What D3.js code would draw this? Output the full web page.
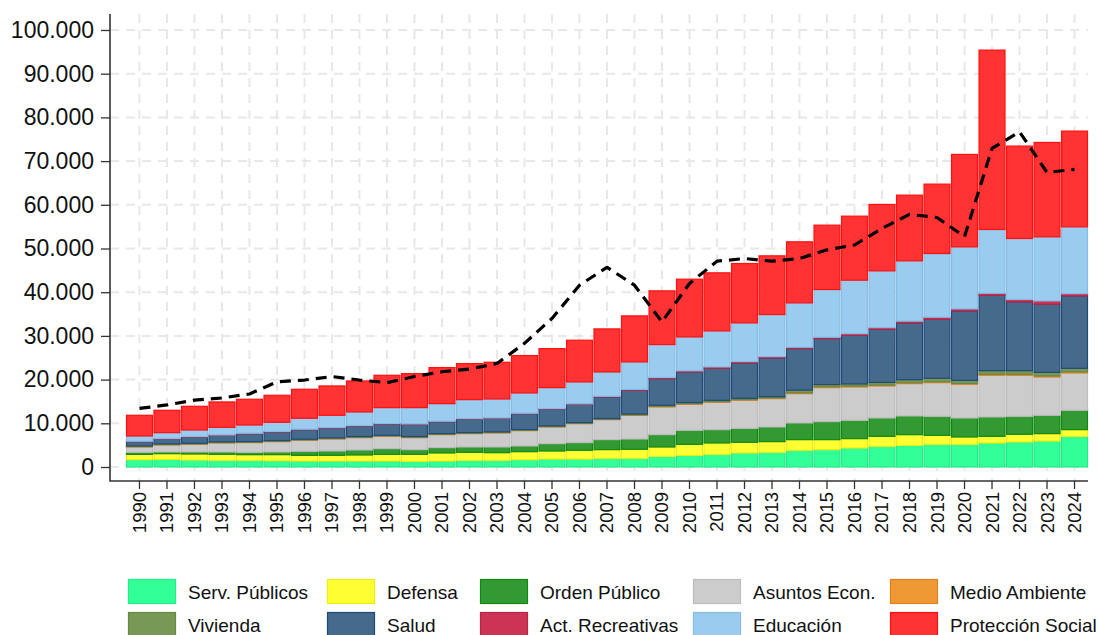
<!DOCTYPE html>
<html>
<head>
<meta charset="utf-8">
<script src="https://cdn.jsdelivr.net/npm/d3@7"></script>
<style>
  html, body { margin: 0; padding: 0; background: #fff; }
  svg { display: block; font-family: "Liberation Sans", Arial, sans-serif; }
</style>
</head>
<body>
<div id="canvas"></div>
<script>
'use strict';

/* Categories and values. */
const years = [1990, 1991, 1992, 1993, 1994, 1995, 1996, 1997, 1998, 1999,
  2000, 2001, 2002, 2003, 2004, 2005, 2006, 2007, 2008, 2009,
  2010, 2011, 2012, 2013, 2014, 2015, 2016, 2017, 2018, 2019,
  2020, 2021, 2022, 2023, 2024];

const servPublicos = [1680, 1760, 1600, 1530, 1530, 1450, 1370, 1370, 1370, 1370,
  1300, 1370, 1530, 1530, 1680, 1830, 1830, 1980, 1980, 2440,
  2670, 2900, 3210, 3360, 3820, 3970, 4350, 4730, 4960, 5190,
  5190, 5500, 5730, 5950, 7020];
const defensa = [1220, 1290, 1380, 1370, 1290, 1370, 1300, 1300, 1380, 1530,
  1600, 1840, 1830, 1750, 1830, 1830, 1990, 1990, 2070, 2140,
  2520, 2600, 2440, 2440, 2440, 2290, 2140, 2290, 2440, 2060,
  1680, 1520, 1750, 1680, 1530];
const ordenPublico = [460, 390, 460, 540, 540, 620, 920, 990, 1140, 1300,
  1070, 1220, 1220, 1300, 1300, 1680, 1750, 2290, 2360, 2820,
  3210, 3050, 3200, 3360, 3820, 4120, 4200, 4200, 4280, 4350,
  4350, 4430, 4120, 4200, 4430];
const asuntosEcon = [1220, 1600, 1750, 2060, 2210, 2360, 2520, 2750, 2830, 2820,
  2750, 2970, 3050, 3210, 3510, 3820, 4350, 4580, 5420, 6340,
  5950, 6260, 6420, 6490, 6710, 7790, 7630, 7330, 7400, 7710,
  7710, 9540, 9390, 8780, 8550];
const medioAmbiente = [100, 100, 100, 100, 100, 100, 100, 100, 100, 100,
  100, 100, 100, 100, 100, 100, 100, 100, 100, 150,
  150, 150, 150, 150, 200, 200, 200, 200, 200, 200,
  200, 250, 250, 250, 250];
const vivienda = [150, 150, 150, 150, 150, 150, 150, 150, 150, 150,
  150, 150, 150, 150, 150, 150, 150, 150, 200, 250,
  250, 300, 300, 300, 600, 500, 500, 600, 700, 800,
  700, 800, 800, 800, 800];
const salud = [970, 1120, 1430, 1500, 1810, 1970, 2190, 2270, 2420, 2580,
  2800, 2730, 3110, 3110, 3640, 3870, 4180, 4940, 5430, 6090,
  7010, 7340, 8100, 8860, 9510, 10520, 11130, 12180, 13000, 13510,
  15900, 17270, 15750, 15590, 16580];
const actRecreativas = [100, 100, 100, 100, 100, 100, 100, 100, 100, 100,
  100, 100, 100, 100, 100, 100, 120, 150, 200, 250,
  250, 300, 300, 300, 300, 300, 350, 350, 400, 450,
  450, 450, 550, 750, 500];
const educacion = [1200, 1350, 1500, 1730, 1890, 2110, 2500, 2800, 3110, 3640,
  3720, 4020, 4330, 4320, 4640, 4790, 5000, 5580, 6290, 7540,
  7760, 8250, 8860, 9630, 10160, 10920, 12250, 13010, 13800, 14580,
  14200, 14590, 13950, 14670, 15300];
const proteccionSocial = [4730, 5120, 5420, 5810, 5880, 6180, 6640, 6720, 7090, 7400,
  7780, 8250, 8240, 8400, 8550, 8930, 9540, 9840, 10530, 12290,
  13210, 13280, 13580, 13430, 13970, 14730, 14650, 15190, 15030, 15880,
  21150, 41050, 21150, 21600, 21910];

/* The dashed black line drawn over the bars. */
const lineaTotal = [13400, 14200, 15300, 15800, 16700, 19500, 19900, 20700, 19900, 19300,
  20700, 21800, 22400, 23700, 28300, 34000, 41600, 45700, 41600, 33200,
  42000, 47100, 47700, 47100, 47700, 49700, 50800, 54600, 57800, 57100,
  52700, 72900, 76700, 67400, 68100];

const yTicks = [0, 10000, 20000, 30000, 40000, 50000, 60000, 70000, 80000, 90000, 100000];

/* Stack order, bottom to top, with fill and edge colours. */
const series = [
  {name: 'Serv. Públicos', values: servPublicos, fill: '#33ff99', edge: '#22ee88'},
  {name: 'Defensa', values: defensa, fill: '#ffff33', edge: '#eeee11'},
  {name: 'Orden Público', values: ordenPublico, fill: '#339933', edge: '#118811'},
  {name: 'Asuntos Econ.', values: asuntosEcon, fill: '#cccccc', edge: '#bdbdbd'},
  {name: 'Medio Ambiente', values: medioAmbiente, fill: '#ee9933', edge: '#e08020'},
  {name: 'Vivienda', values: vivienda, fill: '#779955', edge: '#668844'},
  {name: 'Salud', values: salud, fill: '#466a8c', edge: '#1f4a78'},
  {name: 'Act. Recreativas', values: actRecreativas, fill: '#cc3355', edge: '#bb2244'},
  {name: 'Educación', values: educacion, fill: '#99ccee', edge: '#88bbe6'},
  {name: 'Protección Social', values: proteccionSocial, fill: '#ff3333', edge: '#ff1111'},
];

const width = 1099;
const height = 635;
/* Frame of the plot: axis lines sit a little outside the data range. */
const frame = {left: 110, right: 1088, top: 14, bottom: 481};

const svg = d3.select('#canvas').append('svg')
    .attr('width', width)
    .attr('height', height);

const x = d3.scaleBand()
    .domain(years)
    .range([126, frame.right])
    .paddingInner(0.02)
    .paddingOuter(0);

const y = d3.scaleLinear()
    .domain([0, 100000])
    .range([467, 30]);

const esLocale = d3.formatLocale({
  decimal: ',', thousands: '.', grouping: [3], currency: ['', ''],
});
const fmt = esLocale.format(',d');

/* Dashed light grid, one line per tick in each direction. */
const grid = svg.append('g').attr('class', 'grid')
    .attr('stroke', '#e8e8e8')
    .attr('stroke-width', 2)
    .attr('stroke-dasharray', '9,7');
grid.selectAll('line.h').data(yTicks).join('line')
    .attr('class', 'h')
    .attr('x1', frame.left).attr('x2', frame.right)
    .attr('y1', (d) => y(d)).attr('y2', (d) => y(d));
grid.selectAll('line.v').data(years).join('line')
    .attr('class', 'v')
    .attr('x1', (d) => x(d) + x.bandwidth() / 2)
    .attr('x2', (d) => x(d) + x.bandwidth() / 2)
    .attr('y1', frame.top).attr('y2', frame.bottom);

/* Stacked bars. */
const table = years.map((yr, i) => {
  const row = {year: yr};
  series.forEach((s) => { row[s.name] = s.values[i]; });
  return row;
});
const stacked = d3.stack().keys(series.map((s) => s.name))(table);

svg.append('g').attr('class', 'bars')
    .selectAll('g')
    .data(stacked)
    .join('g')
    .attr('fill', (d, i) => series[i].fill)
    .attr('stroke', (d, i) => series[i].edge)
    .attr('stroke-width', 1.2)
    .selectAll('rect')
    .data((d) => d)
    .join('rect')
    .attr('x', (d) => x(d.data.year) + 0.5)
    .attr('width', x.bandwidth() - 1)
    .attr('y', (d) => y(d[1]))
    .attr('height', (d) => Math.max(0, y(d[0]) - y(d[1])));

/* Dashed line, straight segments between years. */
const line = d3.line()
    .x((d, i) => x(years[i]) + x.bandwidth() / 2)
    .y((d) => y(d));

svg.append('path')
    .datum(lineaTotal)
    .attr('fill', 'none')
    .attr('stroke', '#000')
    .attr('stroke-width', 3.2)
    .attr('stroke-linejoin', 'round')
    .attr('stroke-dasharray', '11,7')
    .attr('d', line);

/* Axes. */
const yAxis = svg.append('g')
    .attr('transform', `translate(${frame.left},0)`)
    .call(d3.axisLeft(y).tickValues(yTicks).tickFormat(fmt)
        .tickSize(9).tickPadding(7));
yAxis.select('.domain').remove();
yAxis.selectAll('.tick line').attr('stroke', '#333').attr('stroke-width', 1.3);
yAxis.selectAll('.tick text')
    .attr('fill', '#111')
    .style('font-size', '23px');

const xAxis = svg.append('g')
    .attr('transform', `translate(0,${frame.bottom})`)
    .call(d3.axisBottom(x).tickSize(8).tickSizeOuter(0));
xAxis.select('.domain').remove();
xAxis.selectAll('.tick line').attr('stroke', '#333').attr('stroke-width', 1.3);
xAxis.selectAll('.tick text')
    .attr('fill', '#111')
    .style('font-size', '18.5px')
    .attr('text-anchor', 'end')
    .attr('transform', 'rotate(-90)')
    .attr('x', -11)
    .attr('y', 0)
    .attr('dy', '0.35em');

svg.append('path')
    .attr('fill', 'none')
    .attr('stroke', '#333')
    .attr('stroke-width', 1.6)
    .attr('d', `M${frame.left},${frame.top}V${frame.bottom}H${frame.right}`);

/* Legend: two rows of five. */
const legendCols = [128, 327, 480, 693, 890];
const legendRows = [579, 612];
const legend = svg.append('g').attr('class', 'legend');
const items = legend.selectAll('g')
    .data(series)
    .join('g')
    .attr('transform', (d, i) =>
      `translate(${legendCols[i % 5]},${legendRows[Math.floor(i / 5)]})`);
items.append('rect')
    .attr('x', 0.5).attr('y', 0.5)
    .attr('width', 47).attr('height', 24)
    .attr('fill', (d) => d.fill)
    .attr('stroke', (d) => d.edge)
    .attr('stroke-width', 1.2);
items.append('text')
    .attr('x', 60)
    .attr('y', 13)
    .attr('dy', '0.35em')
    .attr('fill', '#111')
    .style('font-size', '19px')
    .text((d) => d.name);
</script>
</body>
</html>
